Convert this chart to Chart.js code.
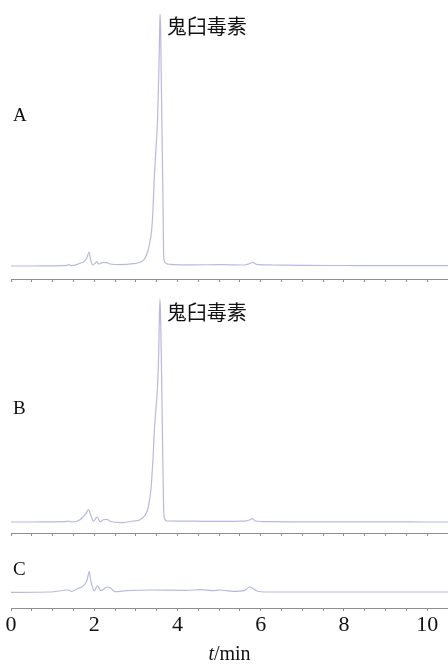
<!DOCTYPE html>
<html>
<head>
<meta charset="utf-8">
<script src="https://cdn.jsdelivr.net/npm/chart.js@4.4.1/dist/chart.umd.min.js"></script>
<style>
  html, body { margin: 0; padding: 0; background: #ffffff; overflow: hidden; }
  .panel { position: absolute; left: 0; width: 448px; }
  #panelA { top: 0; height: 285px; }
  #panelB { top: 285px; height: 255px; }
  #panelC { top: 540px; height: 124px; }
</style>
</head>
<body>
<div class="panel" id="panelA"><canvas id="chartA"></canvas></div>
<div class="panel" id="panelB"><canvas id="chartB"></canvas></div>
<div class="panel" id="panelC"><canvas id="chartC"></canvas></div>
<script>
// Retention time (min) and detector signal for each chromatogram
const timeA = [0, 0.5, 1.0, 1.3, 1.38, 1.46, 1.66, 1.74, 1.82, 1.875, 1.915, 1.96, 2.02, 2.06, 2.10, 2.16, 2.22, 2.30, 2.38, 2.62, 2.94, 3.10, 3.20, 3.29, 3.34, 3.38, 3.41, 3.44, 3.48, 3.52, 3.55, 3.57, 3.58, 3.595, 3.61, 3.63, 3.645, 3.66, 3.668, 3.69, 3.74, 3.82, 4.4, 5.02, 5.6, 5.75, 5.80, 5.90, 6.3, 7.0, 8.0, 9.0, 10.0, 10.5];
const signalA = [0, 0, 0.2, 0.3, 1.3, 0.3, 2.7, 4, 7.7, 14, 6, 1, 2.7, 4.3, 2, 2.7, 3.7, 3.3, 2, 1.3, 2.3, 3.7, 6.5, 15, 25, 36, 55, 86, 115, 145, 190, 232, 252, 238, 190, 130, 86, 36, 10, 4, 2.3, 1.7, 1.2, 1.3, 1, 2.7, 3.7, 1.7, 1, 0.6, 0.5, 0.4, 0.4, 0.4];

const timeB = [0, 0.5, 1.0, 1.3, 1.38, 1.46, 1.66, 1.74, 1.80, 1.86, 1.92, 1.98, 2.07, 2.14, 2.22, 2.30, 2.38, 2.62, 2.94, 3.10, 3.22, 3.30, 3.36, 3.38, 3.41, 3.44, 3.48, 3.52, 3.55, 3.565, 3.578, 3.59, 3.61, 3.63, 3.645, 3.66, 3.67, 3.69, 3.74, 4.4, 5.0, 5.6, 5.75, 5.80, 5.87, 6.2, 7.0, 8.0, 9.0, 10.0, 10.5];
const signalB = [0, 0, 0.2, 0.3, 1, 0, 2.3, 5.7, 8.3, 12.3, 6.7, 0.7, 5, 0.3, 2.3, 2.7, 0.7, -0.7, 1, 2.3, 6.7, 15, 31.7, 42, 62, 88, 112, 135, 170, 205, 223, 212, 170, 115, 70, 32, 10, 3.5, 1, 0.8, 0.6, 0.8, 2.3, 3.3, 1, 0.3, 0.2, 0.1, 0.1, 0, 0];

const timeC = [0, 0.94, 1.38, 1.46, 1.62, 1.70, 1.78, 1.83, 1.88, 1.92, 2.00, 2.08, 2.16, 2.24, 2.32, 2.40, 2.50, 2.78, 3.34, 4.22, 4.54, 4.86, 5.02, 5.34, 5.62, 5.73, 5.79, 5.91, 6.15, 7.0, 8.0, 9.0, 10.0, 10.5];
const signalC = [-0.3, 0, 2, 0.7, 3.7, 5, 8, 12.3, 20.3, 10.7, 1, 6.3, 1.3, 3.3, 5, 3.7, 0.3, 1.3, 2, 1.7, 2.3, 1.3, 2, 0.7, 1.7, 5, 4, 1, 0, 0, 0, 0, 0, 0];

// Time axis: minor marks every half minute, numbers on the even minutes
const tickStep = 0.5;
const timeMax = 10.5;
const labelledTicks = [0, 2, 4, 6, 8, 10];

const panelNames = ['A', 'B', 'C'];
const compoundName = '鬼臼毒素';
const axisTitleItalic = 't';
const axisTitleRest = '/min';

const LINE_COLOR = '#b9b9e0';
const AXIS_COLOR = '#8e8e8e';
const SERIF = '"Liberation Serif", "Times New Roman", "DejaVu Serif", serif';
const CJK = '"Noto Sans CJK SC", "Noto Sans CJK JP", sans-serif';

const tickValues = [];
for (let i = 0; i * tickStep <= timeMax + 1e-9; i++) tickValues.push(+(i * tickStep).toFixed(2));

// Draws panel letters, peak names and the time-axis title
const annotationPlugin = {
  id: 'panelText',
  afterDraw(chart, args, opts) {
    const ctx = chart.ctx;
    const xs = chart.scales.x, ys = chart.scales.y;
    ctx.save();
    ctx.fillStyle = '#111111';
    ctx.textBaseline = 'middle';
    (opts.items || []).forEach(it => {
      ctx.font = it.font;
      ctx.textAlign = it.align || 'left';
      ctx.fillText(it.text, xs.getPixelForValue(it.x), ys.getPixelForValue(it.y));
    });
    if (opts.axisTitle) {
      const y = xs.top + opts.axisTitle.offset;
      const cx = (chart.chartArea.left + chart.chartArea.right) / 2;
      const fItal = 'italic 20px ' + SERIF;
      const fReg = '20px ' + SERIF;
      ctx.font = fItal; const w1 = ctx.measureText(axisTitleItalic).width;
      ctx.font = fReg; const w2 = ctx.measureText(axisTitleRest).width;
      const x0 = cx - (w1 + w2) / 2;
      ctx.textAlign = 'left';
      ctx.font = fItal; ctx.fillText(axisTitleItalic, x0, y);
      ctx.font = fReg; ctx.fillText(axisTitleRest, x0 + w1, y);
    }
    ctx.restore();
  }
};

function makePanel(id, times, signals, cfg) {
  const points = times.map((t, i) => ({ x: t, y: signals[i] }));
  return new Chart(document.getElementById(id), {
    type: 'line',
    data: {
      datasets: [{
        data: points,
        borderColor: LINE_COLOR,
        borderWidth: 1.2,
        pointRadius: 0,
        fill: false,
        cubicInterpolationMode: 'monotone'
      }]
    },
    options: {
      responsive: true,
      maintainAspectRatio: false,
      animation: false,
      events: [],
      layout: { padding: { left: 11, right: 0, top: cfg.padTop, bottom: cfg.padBottom } },
      scales: {
        x: {
          type: 'linear',
          min: 0,
          max: timeMax,
          afterBuildTicks: s => { s.ticks = tickValues.map(v => ({ value: v })); },
          // keep every panel's time axis the same width, whether or not it carries numbers
          afterFit: s => { s.paddingLeft = 0; s.paddingRight = 0; },
          border: { display: true, color: AXIS_COLOR, width: 1 },
          grid: { display: true, drawOnChartArea: false, drawTicks: true, tickLength: 3, color: AXIS_COLOR, tickColor: AXIS_COLOR },
          ticks: {
            display: cfg.showLabels,
            autoSkip: false,
            maxRotation: 0,
            padding: 3,
            color: '#111111',
            font: { family: SERIF, size: 22, lineHeight: 1 },
            callback: v => labelledTicks.includes(v) ? String(v) : ''
          }
        },
        y: { display: false, min: cfg.yMin, max: cfg.yMax }
      },
      plugins: {
        legend: { display: false },
        tooltip: { enabled: false },
        panelText: { items: cfg.items, axisTitle: cfg.axisTitle }
      }
    },
    plugins: [annotationPlugin]
  });
}

const letterFont = '19px ' + SERIF;
const nameFont = '20px ' + CJK;

makePanel('chartA', timeA, signalA, {
  padTop: 8, padBottom: 3, yMin: -13, yMax: 258, showLabels: false,
  items: [
    { text: panelNames[0], x: 0.05, y: 149.5, font: letterFont },
    { text: compoundName, x: 3.74, y: 240, font: nameFont }
  ]
});

makePanel('chartB', timeB, signalB, {
  padTop: 8, padBottom: 4, yMin: -11, yMax: 229, showLabels: false,
  items: [
    { text: panelNames[1], x: 0.05, y: 112.5, font: letterFont },
    { text: compoundName, x: 3.74, y: 210, font: nameFont }
  ]
});

makePanel('chartC', timeC, signalC, {
  padTop: 10, padBottom: 25, yMin: -16, yMax: 42, showLabels: true,
  items: [
    { text: panelNames[2], x: 0.05, y: 22, font: letterFont }
  ],
  axisTitle: { offset: 47 }
});
</script>
</body>
</html>
